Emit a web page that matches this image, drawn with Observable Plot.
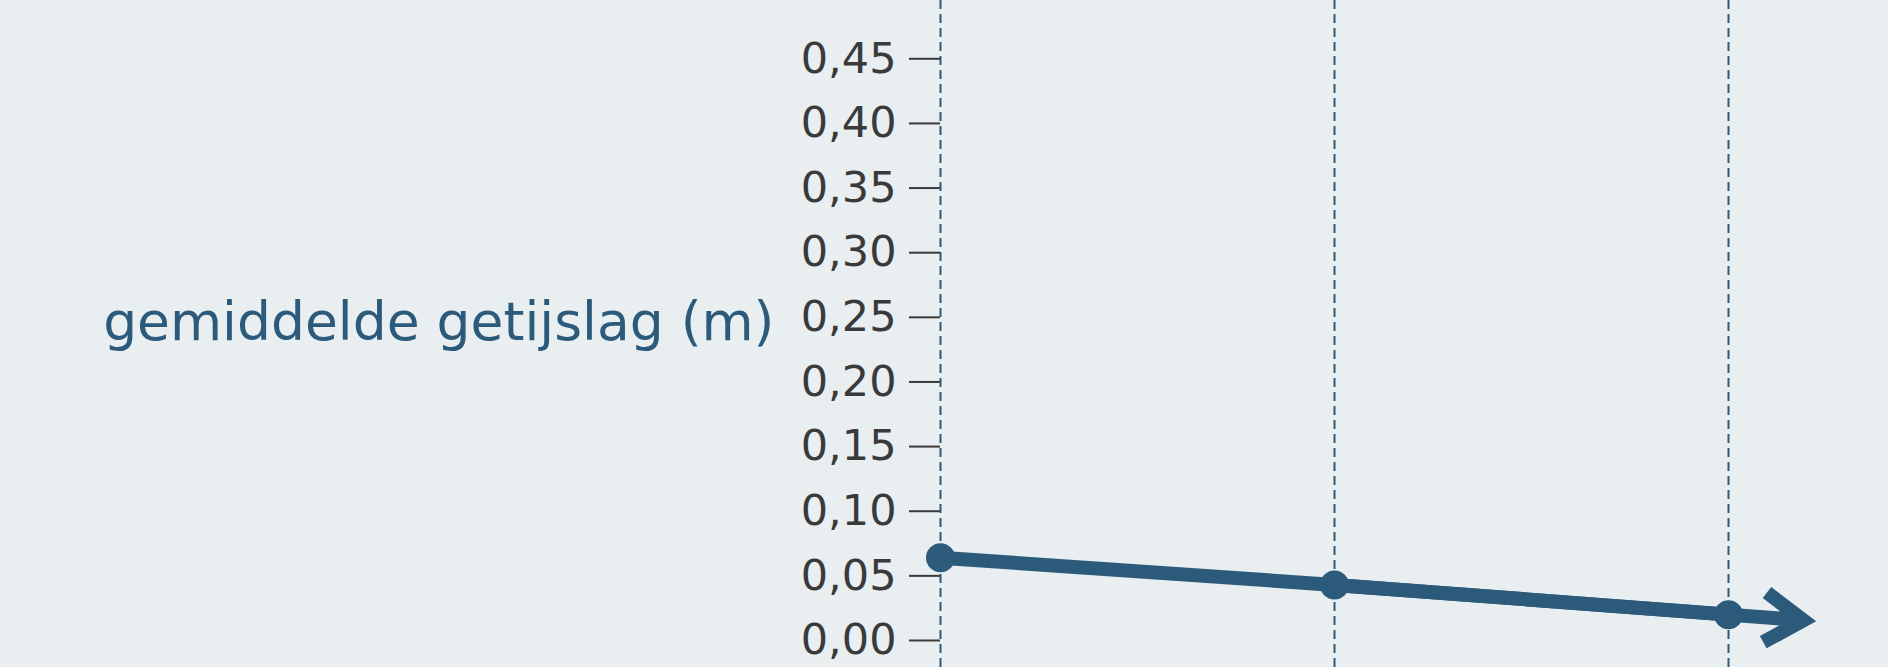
<!DOCTYPE html>
<html>
<head>
<meta charset="utf-8">
<script src="https://cdn.jsdelivr.net/npm/d3@7"></script>
<script src="https://cdn.jsdelivr.net/npm/@observablehq/plot@0.6"></script>
<style>
  html, body { margin: 0; padding: 0; background: #e9eef1; }
  #chart { width: 1888px; height: 667px; overflow: hidden; }
  #chart g[aria-label="y-axis tick"] { stroke-width: 2px; }
  #chart g[aria-label="y-axis tick"] path { stroke-width: 2px; }
</style>
</head>
<body>
<div id="chart"></div>
<script>
// Data
const posities = [0, 1, 2];
const getijslag = [0.064, 0.043, 0.020];
const yTicks = [0, 0.05, 0.10, 0.15, 0.20, 0.25, 0.30, 0.35, 0.40, 0.45];
const yLabel = "gemiddelde getijslag (m)";
const pijlVerlenging = 0.19; // how far the trend arrow continues past the last point (in steps)

const kleur = "#2c5a7b";
const data = posities.map((p, i) => ({x: p, y: getijslag[i]}));
const n = data.length;
const last = data[n - 1], prev = data[n - 2];
const pijl = [{
  x1: prev.x, y1: prev.y,
  x2: last.x + pijlVerlenging,
  y2: last.y + (last.y - prev.y) * pijlVerlenging
}];

const chart = Plot.plot({
  width: 1888,
  height: 667,
  marginLeft: 940,
  marginRight: 160,
  marginTop: 0,
  marginBottom: 0,
  style: {
    background: "#e9eef1",
    color: "#3a3a3a",
    fontFamily: "DejaVu Sans, Verdana, sans-serif",
    fontSize: "43px"
  },
  x: {domain: [0, 2], axis: null},
  y: {
    domain: [-0.0209, 0.4951],
    ticks: yTicks,
    tickFormat: d => d.toFixed(2).replace(".", ","),
    tickSize: 31,
    tickPadding: 13,
    label: null
  },
  marks: [
    Plot.ruleX(posities, {stroke: kleur, strokeWidth: 2, strokeDasharray: "9,5"}),
    Plot.line(data, {x: "x", y: "y", stroke: kleur, strokeWidth: 14}),
    Plot.arrow(pijl, {
      x1: "x1", y1: "y1", x2: "x2", y2: "y2",
      stroke: kleur, strokeWidth: 14, headLength: 4.9, headAngle: 66,
      strokeLinecap: "butt", strokeLinejoin: "miter", strokeMiterlimit: 4
    }),
    Plot.dot(data, {x: "x", y: "y", r: 14.5, fill: kleur, stroke: "none"}),
    Plot.text([yLabel], {
      frameAnchor: "left", dx: -166, dy: 5.5,
      textAnchor: "end", lineAnchor: "bottom",
      fontSize: 53.5, fill: kleur
    })
  ]
});
document.getElementById("chart").appendChild(chart);
</script>
</body>
</html>
